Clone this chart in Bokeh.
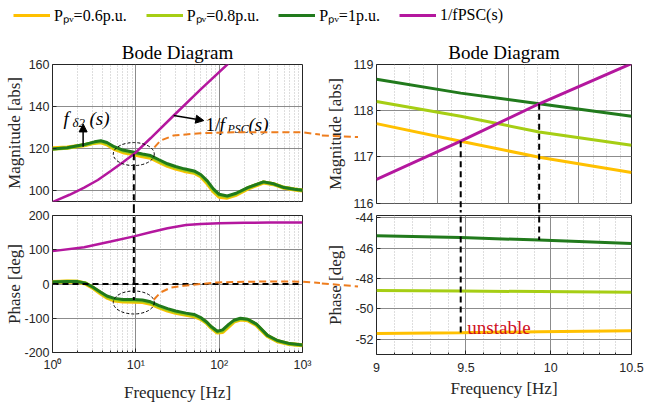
import numpy as np
from bokeh.plotting import figure
from bokeh.models import (Range1d, FixedTicker, Label, Arrow, NormalHead,
                          Legend, LegendItem)
from bokeh.layouts import column, row
from bokeh.embed import file_html
from bokeh.resources import INLINE

# ---------------- data ----------------
legend_labels = ["Pₚᵥ=0.6p.u.", "Pₚᵥ=0.8p.u.", "Pₚᵥ=1p.u.", "1/fPSC(s)"]

# full-range Bode, magnitude (Hz, abs)
f_mag = [1, 1.5, 2.4, 3.2, 3.8, 4.5, 5.5, 7, 9.5, 12, 15, 19, 24, 30, 38, 50,
         60, 72, 85, 100, 125, 160, 220, 340, 450, 600, 800, 1000]
mag_10 = [119.9, 120.5, 122.0, 123.3, 123.8, 123.0, 121.0, 119.4, 118.35, 117.5,
          116.8, 114.8, 112.9, 111.6, 110.5, 109.5, 107.8, 104.8, 101.0, 98.4,
          97.6, 98.9, 101.6, 104.3, 103.4, 101.6, 100.8, 100.3]
mag_08 = [119.9, 120.4, 121.8, 123.0, 123.4, 122.5, 120.5, 118.9, 117.85, 117.0,
          116.3, 114.3, 112.4, 111.1, 110.0, 109.0, 107.3, 104.2, 100.4, 97.9,
          97.2, 98.6, 101.4, 104.2, 103.3, 101.6, 100.8, 100.3]
mag_06 = [120.3, 120.6, 121.7, 122.8, 123.1, 122.1, 120.0, 118.4, 117.35, 116.5,
          115.8, 113.8, 111.9, 110.6, 109.5, 108.6, 107.0, 103.6, 99.8, 97.3,
          96.8, 98.2, 101.1, 104.0, 103.2, 101.5, 100.7, 100.2]
f_psc_mag = [1, 1.6, 2.4, 3.5, 5, 7, 9.5, 15, 28.5, 60, 125, 200]
mag_psc = [94.75, 98.2, 101.6, 105.2, 109.5, 113.6, 117.5, 125.0, 135.8, 148.2,
           160.0, 168.0]

# full-range Bode, phase (Hz, deg)
f_ph = [1, 1.5, 2, 2.5, 3, 3.8, 4.5, 5.5, 7, 9.5, 12, 15, 19, 24, 30, 40, 50,
        60, 70, 80, 95, 110, 130, 150, 180, 220, 280, 380, 500, 700, 1000]
ph_10 = [6, 7.5, 7, 2, -8, -24, -35, -42, -45, -45.4, -46.5, -52, -63, -72, -79,
         -85, -89, -98, -110, -124, -138, -134, -118, -106, -100, -103, -117,
         -150, -165, -174, -178]
ph_08 = [6, 7.5, 7, 2, -9, -26, -38, -45, -48.5, -48.8, -50, -55, -66, -75, -82,
         -88, -92, -100, -112, -126, -140, -137, -121, -108, -102, -104, -118,
         -151, -166, -175, -178.5]
ph_06 = [6, 7.5, 6.5, 1, -10, -28, -40, -48, -51, -51.6, -52.5, -57.5, -68.5,
         -77.5, -84, -90, -94, -102, -113, -127, -142, -140, -124, -110, -104,
         -106, -120, -152, -167, -175.5, -179]
f_psc_ph = [1, 2.4, 5, 9.5, 15, 24, 40, 60, 100, 200, 400, 1000]
ph_psc = [96, 107.5, 124, 139, 151, 163, 172, 175, 177.5, 178.7, 179.2, 179.5]
ph_ref = 0

# zoomed view 9 .. 10.5 Hz
f_zoom = [9.0, 9.47, 9.93, 10.5]
zmag_06 = [117.72, 117.34, 116.99, 116.66]
zmag_08 = [118.20, 117.88, 117.54, 117.25]
zmag_10 = [118.68, 118.38, 118.15, 117.88]
zmag_psc = [116.51, 117.34, 118.15, 119.02]
zph_06 = [-51.61, -51.57, -51.50, -51.44]
zph_08 = [-48.78, -48.82, -48.86, -48.91]
zph_10 = [-45.19, -45.30, -45.47, -45.69]

# intersections (frequency, magnitude, phase)
cross_f = [9.47, 9.93]
cross_mag = [117.34, 118.15]
cross_ph = [-51.57, -45.47]
wide_cross_mag = 117.4
wide_cross_ph = -46.5

# highlighted regions (dashed ellipses) in the full-range plots
ell_f = 9.45
ell_mag = 117.5
ell_ph = -54

# orange "zoom" connectors
conn_tl_f = [16.7, 19.8, 28.3, 59.7, 148, 1000, 1700]
conn_tl_v = [120.7, 123.9, 126.3, 127.4, 127.8, 127.8, 126.7]
conn_tr_f = [8.65, 8.9]
conn_tr_v = [117.47, 117.43]
conn_bl_f = [16.4, 19.8, 26, 37.6, 94.5, 376, 1000, 1700]
conn_bl_v = [-46, -24.7, -11, -5, 4.7, 7.6, 6.8, 2.4]
conn_br_f = [8.65, 8.9]
conn_br_v = [-48.26, -48.52]

# ticks
left_xticks = [1, 10, 100, 1000]
left_xminor = [2, 3, 4, 5, 6, 7, 8, 9, 20, 30, 40, 50, 60, 70, 80, 90,
               200, 300, 400, 500, 600, 700, 800, 900]
left_xlabels = {1: "10⁰", 10: "10¹", 100: "10²", 1000: "10³"}
tl_yticks = [100, 120, 140, 160]
bl_yticks = [-200, -100, 0, 100, 200]
tr_xticks = [9.34, 9.75, 10.17]
tr_xminor = [9.10, 9.18, 9.26, 9.42, 9.50, 9.59, 9.67, 9.84, 9.92, 10.00,
             10.09, 10.26, 10.34, 10.43]
tr_yticks = [116, 117, 118, 119]
br_xticks = [9, 9.5, 10, 10.5]
br_xminor = [9.1, 9.2, 9.3, 9.4, 9.6, 9.7, 9.8, 9.9, 10.1, 10.2, 10.3, 10.4]
br_xlabels = {9: "9", 9.5: "9.5", 10: "10", 10.5: "10.5"}
br_yticks = [-52, -50, -48, -46, -44]

# ---------------- style ----------------
SERIF = "Liberation Serif"
SANS = "Liberation Sans"
TXT = "#262626"
C06 = "#FFC000"
C08 = "#A6CE14"
C10 = "#217A1C"
CPSC = "#B4179E"
CORANGE = "#EE7D1E"
CRED = "#D0101E"
MAJ = "#8c8c8c"
MIN = "#bdbdbd"
TICK_FS = "12.5px"


def base_fig(w, h, xr, yr, left, right, top, bottom, title=None):
    p = figure(width=w, height=h, x_axis_type="log", x_range=xr, y_range=yr,
               output_backend="svg", toolbar_location=None,
               min_border_left=left, min_border_right=right,
               min_border_top=top, min_border_bottom=bottom)
    if title:
        p.title.text = title
        p.title.text_font = SERIF
        p.title.text_font_size = "19px"
        p.title.text_font_style = "normal"
        p.title.align = "center"
        p.title.offset = 10
        p.title.standoff = 3
        p.title.text_color = "black"
    p.background_fill_color = "white"
    p.border_fill_color = "white"
    p.outline_line_color = TXT
    p.outline_line_width = 1
    return p


def style_axes(p, xt, xminor, yt, ylabel, xlabel=None, xlabels=None,
               ylabels=None, y_lab_standoff=7, x_lab_standoff=8,
               x_maj_standoff=5):
    xtk = FixedTicker(ticks=xt, minor_ticks=xminor)
    ytk = FixedTicker(ticks=yt, minor_ticks=[])
    p.xaxis.ticker = xtk
    p.yaxis.ticker = ytk
    p.xgrid.ticker = xtk
    p.ygrid.ticker = ytk
    p.xgrid.grid_line_color = MAJ
    p.xgrid.minor_grid_line_color = MIN
    p.xgrid.minor_grid_line_dash = "1 2"
    p.ygrid.grid_line_color = MAJ
    for ax in p.axis:
        ax.axis_line_color = None
        ax.major_tick_in = 4
        ax.major_tick_out = 0
        ax.minor_tick_in = 2
        ax.minor_tick_out = 0
        ax.major_tick_line_color = TXT
        ax.minor_tick_line_color = TXT
        ax.major_label_text_font = SANS
        ax.major_label_text_font_size = TICK_FS
        ax.major_label_text_color = TXT
        ax.axis_label_text_font = SERIF
        ax.axis_label_text_font_size = "17px"
        ax.axis_label_text_font_style = "normal"
        ax.axis_label_text_color = TXT
    ya = p.yaxis[0]
    ya.axis_label = ylabel
    ya.major_label_standoff = 3
    ya.axis_label_standoff = y_lab_standoff
    if ylabels:
        ya.major_label_overrides = ylabels
    xa = p.xaxis[0]
    if xlabel is None:
        xa.visible = False
    else:
        xa.axis_label = xlabel
        xa.major_label_standoff = x_maj_standoff
        xa.axis_label_standoff = x_lab_standoff
        if xlabels:
            xa.major_label_overrides = xlabels


# ---------------- legend strip ----------------
lg = figure(width=649, height=38, x_range=Range1d(0, 1), y_range=Range1d(0, 1),
            output_backend="svg", toolbar_location=None, min_border=0,
            x_axis_location=None, y_axis_location=None)
lg.grid.visible = False
lg.outline_line_color = None
lg_colors = [C06, C08, C10, CPSC]
nan = float("nan")
lg_renderers = [lg.line(x=[nan], y=[nan], line_color=c, line_width=3)
                for c in lg_colors]
legend = Legend(items=[LegendItem(label=l, renderers=[r])
                       for l, r in zip(legend_labels, lg_renderers)],
                orientation="horizontal", location=(13, 12),
                glyph_width=37, glyph_height=20, label_height=20,
                label_standoff=4, spacing=19, padding=0, margin=0,
                border_line_color=None, background_fill_alpha=0,
                label_text_font=SERIF, label_text_font_size="16px",
                label_text_color="black")
lg.add_layout(legend, "center")

# ---------------- top-left: magnitude ----------------
tl_y = Range1d(95, 160)
tl = base_fig(320, 170, Range1d(1, 1000), tl_y, 52, 18, 26, 7, "Bode Diagram")
style_axes(tl, left_xticks, left_xminor, tl_yticks, "Magnitude [abs]",
           y_lab_standoff=2)
tl.line(f_mag, mag_06, line_color=C06, line_width=4)
tl.line(f_mag, mag_08, line_color=C08, line_width=3.5)
tl.line(f_mag, mag_10, line_color=C10, line_width=3)
tl.line(f_psc_mag, mag_psc, line_color=CPSC, line_width=2.5)
tl.ellipse(x=[ell_f], y=[ell_mag], width=41, height=23, width_units="screen",
           height_units="screen", fill_color=None, line_color="black",
           line_dash="3 2", line_width=1)
tl.line([cross_f[0], cross_f[0]], [wide_cross_mag, tl_y.start - 4],
        line_color="black", line_width=2, line_dash="6 4", level="overlay")
tl.line(conn_tl_f, conn_tl_v, line_color=CORANGE, line_width=2,
        line_dash="7 4", level="overlay")
# annotations
tl.add_layout(Arrow(end=NormalHead(size=8, fill_color="black", line_color="black"),
                    x_start=2.33, y_start=121.0, x_end=2.33, y_end=131.8,
                    line_color="black", line_width=1.5))
tl.add_layout(Arrow(end=NormalHead(size=8, fill_color="black", line_color="black"),
                    x_start=28.5, y_start=135.8, x_end=65.4, y_end=133.4,
                    line_color="black", line_width=1.5))
for txt, dx, yy, size, style in [("f", 0, 134.5, "19px", "italic"),
                                 ("δ2", 9, 132.6, "13px", "italic"),
                                 ("(s)", 26, 134.5, "19px", "italic")]:
    tl.add_layout(Label(x=1.355, y=yy, x_offset=dx, text=txt, text_font=SERIF,
                        text_font_size=size, text_font_style=style,
                        text_color="black", text_baseline="alphabetic"))
for txt, dx, yy, size, style in [("1/", 0, 131.4, "19px", "normal"),
                                 ("f", 14, 131.4, "19px", "italic"),
                                 ("PSC", 22, 129.5, "12px", "italic"),
                                 ("(s)", 43, 131.4, "19px", "italic")]:
    tl.add_layout(Label(x=68.5, y=yy, x_offset=dx, text=txt, text_font=SERIF,
                        text_font_size=size, text_font_style=style,
                        text_color="black", text_baseline="alphabetic"))

# ---------------- bottom-left: phase ----------------
bl_y = Range1d(-200, 200)
bl = base_fig(320, 197, Range1d(1, 1000), bl_y, 52, 18, 7, 53)
style_axes(bl, left_xticks, left_xminor, bl_yticks, "Phase [deg]",
           xlabel="Frequency [Hz]", xlabels=left_xlabels,
           ylabels={-200: "-200", -100: "-100"}, y_lab_standoff=-3,
           x_lab_standoff=8, x_maj_standoff=5)
bl.line(f_ph, ph_06, line_color=C06, line_width=4)
bl.line(f_ph, ph_08, line_color=C08, line_width=3.5)
bl.line(f_ph, ph_10, line_color=C10, line_width=3)
bl.line(f_psc_ph, ph_psc, line_color=CPSC, line_width=2.5)
bl.line([left_xticks[0], left_xticks[-1]], [ph_ref, ph_ref], line_color="black",
        line_width=2, line_dash="6 4")
bl.ellipse(x=[ell_f], y=[ell_ph], width=41, height=23, width_units="screen",
           height_units="screen", fill_color=None, line_color="black",
           line_dash="3 2", line_width=1)
bl.line([cross_f[0], cross_f[0]], [bl_y.end + 25, wide_cross_ph],
        line_color="black", line_width=2, line_dash="6 4", level="overlay")
bl.line(conn_bl_f, conn_bl_v, line_color=CORANGE, line_width=2,
        line_dash="7 4", level="overlay")

# ---------------- top-right: zoomed magnitude ----------------
tr_y = Range1d(115.99, 119)
tr = base_fig(329, 172, Range1d(9, 10.5), tr_y, 56, 18, 26, 7, "Bode Diagram")
style_axes(tr, tr_xticks, tr_xminor, tr_yticks, "Magnitude [abs]",
           y_lab_standoff=6)
tr.line(f_zoom, zmag_06, line_color=C06, line_width=3)
tr.line(f_zoom, zmag_08, line_color=C08, line_width=3)
tr.line(f_zoom, zmag_10, line_color=C10, line_width=3)
tr.line(f_zoom, zmag_psc, line_color=CPSC, line_width=3)
for fc, mc in zip(cross_f, cross_mag):
    tr.line([fc, fc], [mc, tr_y.start - 0.25], line_color="black", line_width=2,
            line_dash="6 4", level="overlay")
tr.line(conn_tr_f, conn_tr_v, line_color=CORANGE, line_width=2,
        line_dash="7 4", level="overlay")
tr.scatter([conn_tr_f[-1]], [conn_tr_v[-1]], marker="triangle", size=12,
           angle=-np.pi / 2, color=CORANGE, level="overlay")

# ---------------- bottom-right: zoomed phase ----------------
br_y = Range1d(-53, -43.85)
br = base_fig(329, 195, Range1d(9, 10.5), br_y, 56, 18, 5, 51)
style_axes(br, br_xticks, br_xminor, br_yticks, "Phase [deg]",
           xlabel="Frequency [Hz]", xlabels=br_xlabels,
           ylabels={-52: "-52", -50: "-50", -48: "-48", -46: "-46", -44: "-44"},
           y_lab_standoff=7, x_lab_standoff=4, x_maj_standoff=8)
br.line(f_zoom, zph_06, line_color=C06, line_width=3)
br.line(f_zoom, zph_08, line_color=C08, line_width=3)
br.line(f_zoom, zph_10, line_color=C10, line_width=3)
for fc, pc in zip(cross_f, cross_ph):
    br.line([fc, fc], [br_y.end + 0.6, pc], line_color="black", line_width=2,
            line_dash="6 4", level="overlay")
br.line(conn_br_f, conn_br_v, line_color=CORANGE, line_width=2,
        line_dash="7 4", level="overlay")
br.scatter([conn_br_f[-1]], [conn_br_v[-1]], marker="triangle", size=12,
           angle=-np.pi / 2, color=CORANGE, level="overlay")
br.add_layout(Label(x=9.508, y=-51.22, text="unstable", text_font=SERIF,
                    text_font_size="19px", text_color=CRED,
                    text_baseline="alphabetic"))

layout = column(lg, row(column(tl, bl), column(tr, br)))
open("out.html", "w").write(file_html(layout, INLINE))
